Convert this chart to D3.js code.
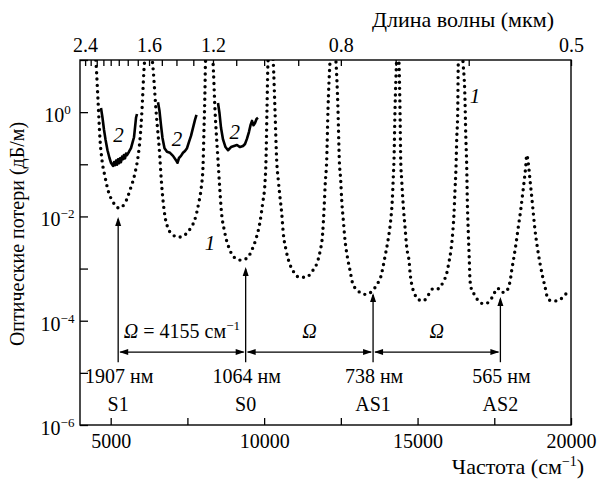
<!DOCTYPE html>
<html>
<head>
<meta charset="utf-8">
<script src="https://cdn.jsdelivr.net/npm/d3@7"></script>
<style>
  body { margin: 0; background: #fff; }
  text { font-family: "Liberation Serif", "Times New Roman", serif; fill: #000; }
</style>
</head>
<body>
<div id="chart"></div>
<script>
const W = 602, H = 479;
const margin = { top: 60, right: 31, bottom: 54, left: 80 };
const width = W - margin.left - margin.right;
const height = H - margin.top - margin.bottom;

// Curve 1 (dotted): frequency, cm^-1 and loss, dB/m
const curve1Freq = [4450, 4521, 4587, 4652, 4717, 4815, 4912, 5075, 5271, 5466, 5629, 5792, 5890, 5955, 6020, 6085,
  6230, 6379, 6476, 6597, 6649, 6704, 6779, 6867, 7030, 7216, 7412, 7607, 7737, 7868, 7952, 8008, 8040, 8073, 8089,
  8210, 8333, 8399, 8497, 8552, 8604, 8715, 8878, 9018, 9236, 9442, 9604, 9745, 9865, 9953, 10028, 10061, 10093, 10126,
  10210, 10298, 10354, 10409, 10461, 10517, 10572, 10624, 10712, 10820, 10950, 11146, 11364, 11570, 11713, 11820, 11908, 11951, 11993, 12039, 12081, 12146,
  12240, 12342, 12407, 12450, 12495, 12528, 12580, 12636, 12711, 12798, 12886, 13069, 13287, 13525, 13669, 13799, 13939, 14047, 14125, 14177, 14210, 14232, 14265, 14314,
  14355, 14395, 14428, 14451, 14483, 14536, 14591, 14646, 14731, 14754, 14803, 14884, 15014, 15145, 15275, 15389, 15503, 15666, 15839, 15950, 16025, 16090, 16145, 16188, 16220, 16253, 16276, 16308, 16328,
  16405, 16481, 16546, 16569, 16602, 16621, 16654, 16686, 16709, 16764, 16872, 16979, 17175, 17361, 17468, 17612, 17736, 17850, 18013, 18068, 18143, 18208, 18283, 18361, 18426, 18478, 18524,
  18557, 18609, 18664, 18720, 18772, 18827, 18902, 18990, 19078, 19153, 19241, 19371, 19534, 19697, 19860];
const curve1Loss = [30, 9.1, 1.7, 0.30, 0.12, 0.058, 0.032, 0.019, 0.0145, 0.018, 0.032, 0.068, 0.138, 0.30, 1.1, 6.5,
  30, 7.1, 1.1, 0.151, 0.05, 0.0207, 0.0093, 0.006, 0.0044, 0.004, 0.0044, 0.006, 0.0085, 0.018, 0.036, 0.089, 0.46, 2.7, 9.1,
  30, 9.1, 1.1, 0.12, 0.036, 0.0132, 0.005, 0.0023, 0.00166, 0.00145, 0.00158, 0.0023, 0.0039, 0.0078, 0.018, 0.044, 0.12, 1.1, 9.1,
  30, 9.1, 1.1, 0.12, 0.05, 0.0234, 0.0117, 0.0048, 0.0023, 0.0013, 0.00089, 0.00068, 0.00068, 0.00089, 0.00123, 0.0021, 0.0048, 0.0132, 0.044, 0.12, 1.1, 9.1,
  30, 9.1, 1.1, 0.12, 0.05, 0.0207, 0.0085, 0.0035, 0.0017, 0.00093, 0.00052, 0.00037, 0.00032, 0.00037, 0.00049, 0.00069, 0.0017, 0.0038, 0.0085, 0.0207, 0.058, 0.12, 1.1, 9.1,
  30, 9.1, 1.1, 0.12, 0.05, 0.0155, 0.0063, 0.0026, 0.00126, 0.00085, 0.00052, 0.00035, 0.00026, 0.00024, 0.00026, 0.00034, 0.00041, 0.00041, 0.00056, 0.00081, 0.00135, 0.0023, 0.0048, 0.0115, 0.032, 0.089, 0.30, 0.95, 9.1,
  30, 9.1, 1.7, 0.40, 0.089, 0.0207, 0.0048, 0.00145, 0.0006, 0.00039, 0.00031, 0.00024, 0.00021, 0.00024, 0.00031, 0.00042, 0.00035, 0.00035, 0.00056, 0.00093, 0.0017, 0.003, 0.0063, 0.0132, 0.0275, 0.05, 0.089,
  0.151, 0.105, 0.05, 0.024, 0.0115, 0.0055, 0.0026, 0.00126, 0.00069, 0.00045, 0.00027, 0.00024, 0.00024, 0.00027, 0.00034];

// Curve 2 (solid), three pieces
const curve2aFreq = [4684, 4733, 4782, 4831, 4896, 4961, 5010, 5075, 5110, 5141, 5175, 5206, 5240, 5271, 5305, 5336, 5370, 5401, 5430, 5466, 5500, 5532, 5597, 5662, 5711, 5760, 5792, 5825, 5857];
const curve2aLoss = [1.2, 0.78, 0.46, 0.30, 0.186, 0.132, 0.107, 0.093, 0.11, 0.096, 0.118, 0.098, 0.125, 0.105, 0.13, 0.11, 0.14, 0.125, 0.15, 0.13, 0.16, 0.15, 0.174, 0.204, 0.26, 0.33, 0.50, 0.78, 0.92];
const curve2bFreq = [6542, 6591, 6640, 6688, 6754, 6835, 6933, 7031, 7128, 7177, 7226, 7291, 7356, 7421, 7487, 7552, 7617, 7682, 7747, 7796];
const curve2bLoss = [1.55, 1.05, 0.56, 0.32, 0.204, 0.174, 0.166, 0.145, 0.12, 0.107, 0.132, 0.145, 0.166, 0.18, 0.204, 0.27, 0.35, 0.50, 0.71, 0.89];
const curve2cFreq = [8497, 8546, 8595, 8660, 8741, 8823, 8921, 9018, 9116, 9214, 9312, 9377, 9442, 9507, 9556, 9605, 9654, 9703, 9752, 9800];
const curve2cLoss = [1.5, 0.95, 0.50, 0.30, 0.214, 0.186, 0.214, 0.224, 0.234, 0.214, 0.224, 0.245, 0.31, 0.42, 0.56, 0.68, 0.56, 0.62, 0.74, 0.78];

// Raman lines
const lineWavelengths = [1907, 1064, 738, 565];   // nm
const lineNames = ["S1", "S0", "AS1", "AS2"];
const lineTipLoss = [0.0098, 0.00107, 0.00034, 0.000285];

// Axis ticks
const freqTicks = [5000, 7500, 10000, 12500, 15000, 17500, 20000];
const freqLabels = [5000, 10000, 15000, 20000];
const lossTicks = [1e-6, 1e-5, 1e-4, 1e-3, 1e-2, 1e-1, 1, 10];
const lossLabelExp = [-6, -4, -2, 0];
const waveTicks = [2.4, 2.3, 2.2, 2.1, 2.0, 1.9, 1.8, 1.7, 1.6, 1.5, 1.4, 1.3, 1.2, 1.1, 1.0, 0.9, 0.8, 0.7, 0.6, 0.5];
const waveLabels = [2.4, 1.6, 1.2, 0.8, 0.5];

const svg = d3.select("#chart").append("svg")
  .attr("width", W).attr("height", H);

const x = d3.scaleLinear().domain([4000, 20000]).range([0, width]);
const y = d3.scaleLog().domain([1e-6, 10]).range([height, 0]);

const g = svg.append("g").attr("transform", `translate(${margin.left},${margin.top})`);

g.append("clipPath").attr("id", "plotClip")
  .append("rect").attr("width", width).attr("height", height);

// Bottom axis
const xAxis = g.append("g")
  .attr("transform", `translate(0,${height})`)
  .call(d3.axisBottom(x).tickValues(freqTicks).tickSize(-7).tickPadding(9)
    .tickFormat(d => freqLabels.includes(d) ? d : ""));
xAxis.select(".domain").remove();
xAxis.selectAll("line").attr("stroke", "#000").attr("stroke-width", 1.3);
xAxis.selectAll("text").style("font-size", "20px").style("font-family", "Liberation Serif").attr("fill", "#000");

// Top axis: wavelength in um
const topAxis = g.append("g")
  .call(d3.axisTop(x).tickValues(waveTicks.map(w => 1e4 / w)).tickSize(-6).tickPadding(8)
    .tickFormat(d => {
      const w = Math.round(1e5 / d) / 10;
      return waveLabels.includes(w) ? w.toFixed(1) : "";
    }));
topAxis.select(".domain").remove();
topAxis.selectAll("line").attr("stroke", "#000").attr("stroke-width", 1.3);
topAxis.selectAll("text").style("font-size", "20px").style("font-family", "Liberation Serif").attr("fill", "#000");

// Left axis
const yAxis = g.append("g")
  .call(d3.axisLeft(y).tickValues(lossTicks).tickSize(-8).tickFormat(""));
yAxis.select(".domain").remove();
yAxis.selectAll("line").attr("stroke", "#000").attr("stroke-width", 1.3);

lossLabelExp.forEach(e => {
  const t = g.append("text")
    .attr("x", -22.5)
    .attr("y", y(Math.pow(10, e)) + 10)
    .attr("text-anchor", "middle")
    .style("font-size", "20px");
  t.append("tspan").text("10");
  t.append("tspan").attr("dy", -8).style("font-size", "13px").text(e === 0 ? "0" : "\u2212" + (-e));
});

// Frame
g.append("rect")
  .attr("width", width).attr("height", height)
  .attr("fill", "none").attr("stroke", "#000").attr("stroke-width", 1.4);

// Curve 1 - dotted
const curve1 = curve1Freq.map((f, i) => [f, curve1Loss[i]]);
const line = d3.line().x(d => x(d[0])).y(d => y(d[1])).curve(d3.curveMonotoneX);

g.append("path")
  .datum(curve1)
  .attr("clip-path", "url(#plotClip)")
  .attr("d", line)
  .attr("fill", "none")
  .attr("stroke", "#000")
  .attr("stroke-width", 3.4)
  .attr("stroke-linecap", "round")
  .attr("stroke-dasharray", "0 6.3");

// Curve 2 - solid pieces
[[curve2aFreq, curve2aLoss], [curve2bFreq, curve2bLoss], [curve2cFreq, curve2cLoss]].forEach(([fr, ls]) => {
  g.append("path")
    .datum(fr.map((f, i) => [f, ls[i]]))
    .attr("d", d3.line().x(d => x(d[0])).y(d => y(d[1])))
    .attr("fill", "none")
    .attr("stroke", "#000")
    .attr("stroke-width", 2.6)
    .attr("stroke-linejoin", "round");
});

// Curve labels
const italicLabel = (px, py, s) => g.append("text")
  .attr("x", px).attr("y", py)
  .attr("text-anchor", "middle")
  .style("font-size", "21px").style("font-style", "italic").text(s);
italicLabel(x(5254), y(0.27), "2");
italicLabel(x(7160), y(0.22), "2");
italicLabel(x(9041), y(0.30), "2");
italicLabel(x(16870), y(1.5), "1");
italicLabel(x(8240), y(0.0023), "1");

// Arrows
const arrowHead = (tx, ty, dir) => {
  const L = 9, w = 3;
  let p;
  if (dir === "up") p = [[tx, ty], [tx - w, ty + L], [tx + w, ty + L]];
  else if (dir === "left") p = [[tx, ty], [tx + L, ty - w], [tx + L, ty + w]];
  else p = [[tx, ty], [tx - L, ty - w], [tx - L, ty + w]];
  g.append("path").attr("d", "M" + p.join("L") + "Z").attr("fill", "#000");
};

const arrowLevel = 2.5e-5;
const baseLevel = 1.6e-5;
const lineFreq = lineWavelengths.map(w => 1e7 / w);

lineFreq.forEach((f, i) => {
  const px = x(f);
  g.append("line")
    .attr("x1", px).attr("x2", px)
    .attr("y1", y(baseLevel)).attr("y2", y(lineTipLoss[i]) + 2)
    .attr("stroke", "#000").attr("stroke-width", 1.3);
  arrowHead(px, y(lineTipLoss[i]), "up");

  const ay = y(arrowLevel);
  g.append("text")
    .attr("x", px + 1).attr("y", ay + 31)
    .attr("text-anchor", "middle")
    .style("font-size", "20px")
    .text(lineWavelengths[i] + " нм");
  g.append("text")
    .attr("x", px).attr("y", ay + 59)
    .attr("text-anchor", "middle")
    .style("font-size", "20px")
    .text(lineNames[i]);
});

for (let i = 0; i < lineFreq.length - 1; i++) {
  const x1 = x(lineFreq[i]), x2 = x(lineFreq[i + 1]);
  const ay = y(arrowLevel);
  g.append("line")
    .attr("x1", x1 + 2).attr("x2", x2 - 2)
    .attr("y1", ay).attr("y2", ay)
    .attr("stroke", "#000").attr("stroke-width", 1.3);
  arrowHead(x1 + 1, ay, "left");
  arrowHead(x2 - 1, ay, "right");

  const t = g.append("text")
    .attr("x", (x1 + x2) / 2).attr("y", ay - 14)
    .attr("text-anchor", "middle")
    .style("font-size", "20px");
  t.append("tspan").style("font-style", "italic").text("\u03A9");
  if (i === 0) {
    t.append("tspan").text(" = 4155 см");
    t.append("tspan").attr("dy", -8).style("font-size", "13px").text("\u22121");
  }
}

// Axis titles
svg.append("text")
  .attr("x", 518).attr("y", 474)
  .attr("text-anchor", "middle")
  .style("font-size", "22px")
  .call(t => {
    t.append("tspan").text("Частота (см");
    t.append("tspan").attr("dy", -8).style("font-size", "14px").text("\u22121");
    t.append("tspan").attr("dy", 8).text(")");
  });

svg.append("text")
  .attr("x", 463).attr("y", 27)
  .attr("text-anchor", "middle")
  .style("font-size", "22px")
  .text("Длина волны (мкм)");

svg.append("text")
  .attr("transform", "translate(24,234) rotate(-90)")
  .attr("text-anchor", "middle")
  .style("font-size", "20px")
  .text("Оптические потери (дБ/м)");
</script>
</body>
</html>
